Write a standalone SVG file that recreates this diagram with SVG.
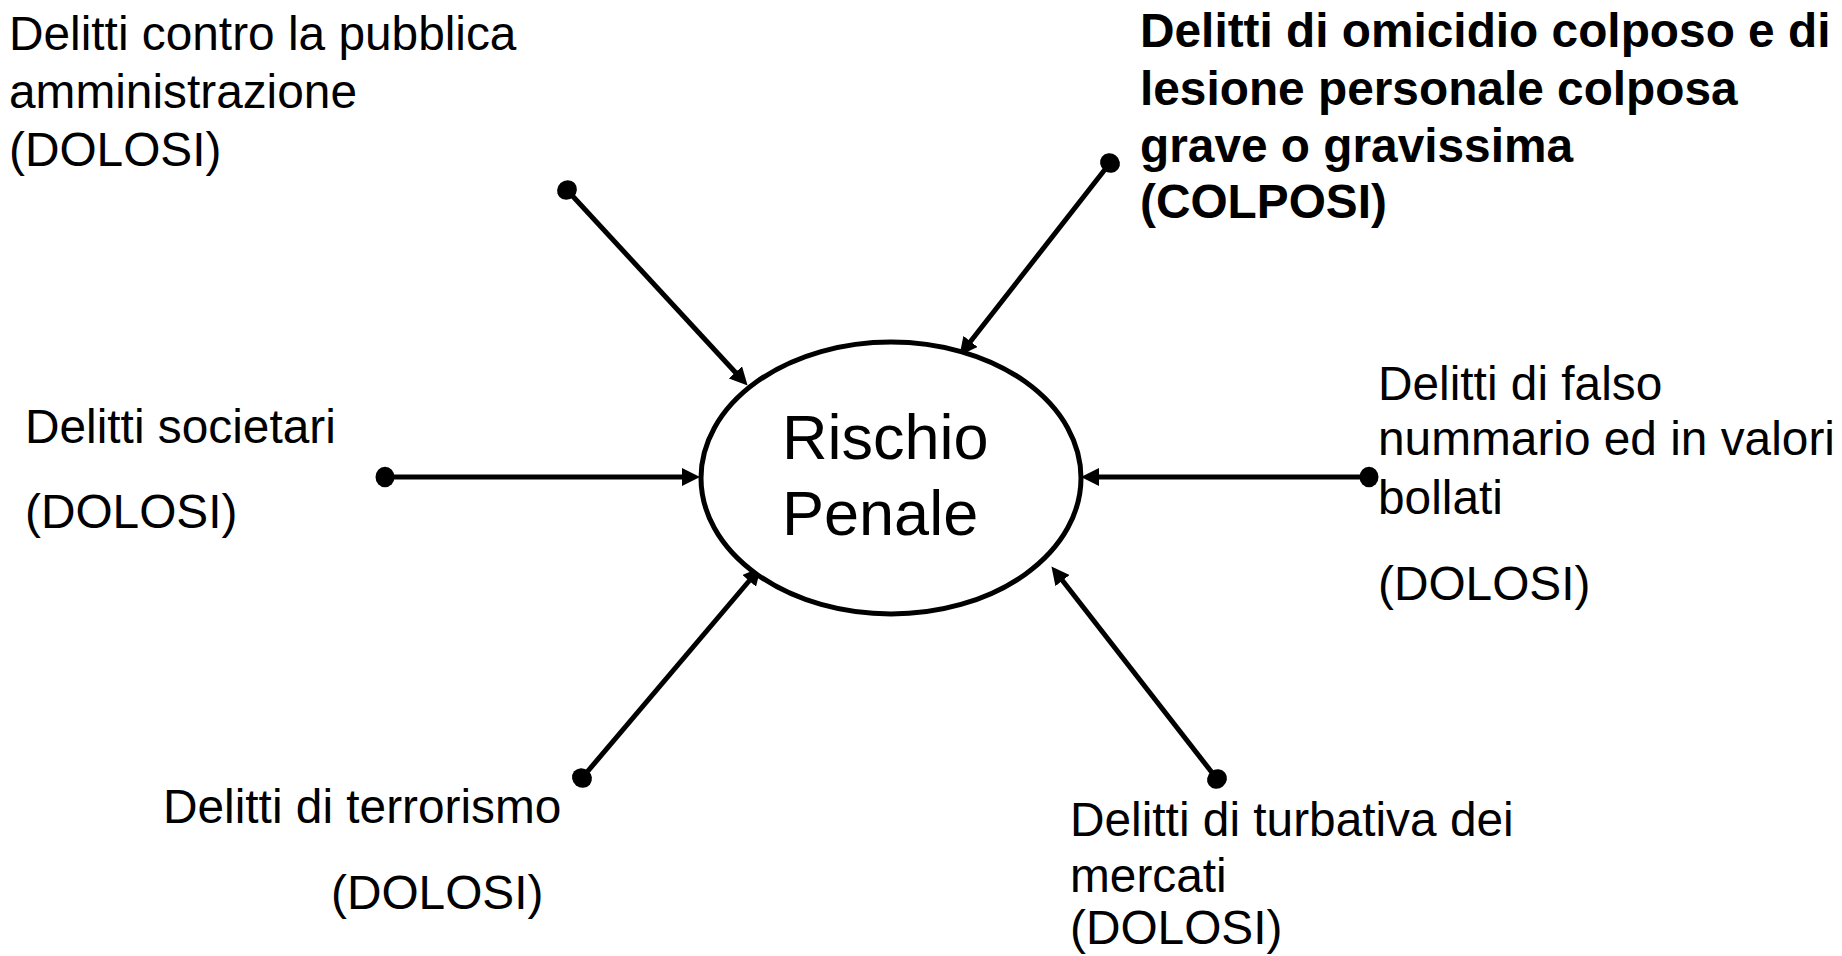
<svg xmlns="http://www.w3.org/2000/svg" width="1842" height="956" viewBox="0 0 1842 956">
<defs>
<style>
text{font-family:"Liberation Sans",Arial,sans-serif;font-size:47.8px;fill:#000}
.b{font-weight:bold}
.big{font-size:63px}
.con{stroke:#000;stroke-width:5;fill:none;marker-start:url(#dot);marker-end:url(#arr)}
</style>
<marker id="arr" markerUnits="strokeWidth" viewBox="0 0 4 4" markerWidth="3.6" markerHeight="3.6" refX="2" refY="2" orient="auto">
<path d="M0,0 L4,2 L0,4 z" fill="#000"/>
</marker>
<marker id="dot" markerUnits="strokeWidth" viewBox="-3 -3 6 6" markerWidth="6" markerHeight="6" refX="0" refY="0" orient="auto">
<ellipse cx="0" cy="0" rx="1.9" ry="2.05" fill="#000"/>
</marker>
</defs>
<rect width="1842" height="956" fill="#fff"/>
<g id="connectors">
<line class="con" x1="385" y1="477" x2="691" y2="477"/>
<line class="con" x1="1369" y1="477" x2="1090" y2="477"/>
<line class="con" x1="567" y1="190" x2="741.5" y2="379"/>
<line class="con" x1="1110" y1="163" x2="965" y2="348.5"/>
<line class="con" x1="582" y1="778" x2="755" y2="574"/>
<line class="con" x1="1217" y1="779" x2="1057" y2="573.5"/>
</g>
<g id="center">
<ellipse cx="891" cy="478" rx="190" ry="136" fill="#fff" stroke="#000" stroke-width="5"/>
<text class="big" x="782" y="459">Rischio</text>
<text class="big" x="782" y="535">Penale</text>
</g>
<g id="pa">
<text x="9" y="50">Delitti contro la pubblica</text>
<text x="9" y="108">amministrazione</text>
<text x="9" y="166">(DOLOSI)</text>
</g>
<g id="omicidio">
<text class="b" x="1140" y="47">Delitti di omicidio colposo e di</text>
<text class="b" x="1140" y="105">lesione personale colposa</text>
<text class="b" x="1140" y="162">grave o gravissima</text>
<text class="b" x="1140" y="218">(COLPOSI)</text>
</g>
<g id="societari">
<text x="25" y="443">Delitti societari</text>
<text x="25" y="528">(DOLOSI)</text>
</g>
<g id="falso">
<text x="1378" y="400">Delitti di falso</text>
<text x="1378" y="455">nummario ed in valori</text>
<text x="1378" y="514">bollati</text>
<text x="1378" y="600">(DOLOSI)</text>
</g>
<g id="terrorismo">
<text x="163" y="823">Delitti di terrorismo</text>
<text x="331" y="909">(DOLOSI)</text>
</g>
<g id="mercati">
<text x="1070" y="836">Delitti di turbativa dei</text>
<text x="1070" y="892">mercati</text>
<text x="1070" y="944">(DOLOSI)</text>
</g>
</svg>
